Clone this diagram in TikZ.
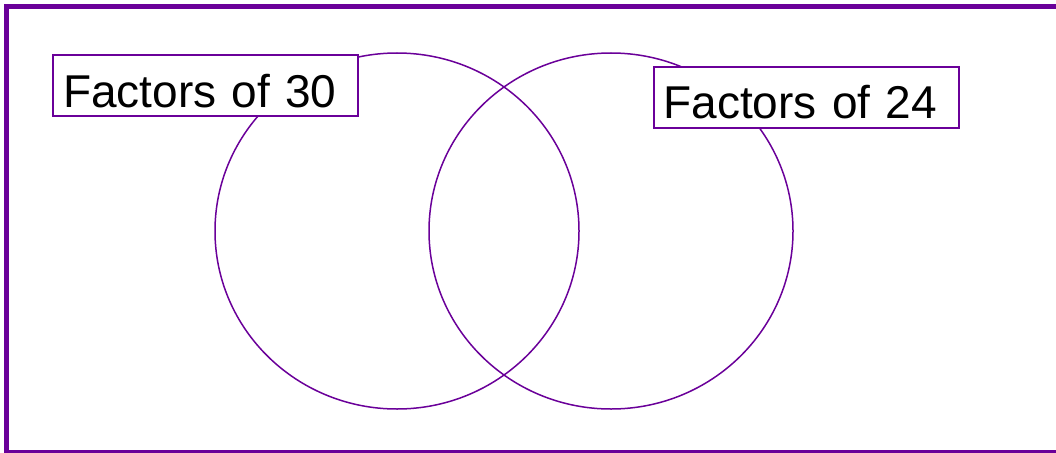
\documentclass[tikz,border=0pt]{standalone}
\usepackage{fontspec}
\setmainfont{Liberation Sans}
\usetikzlibrary{shapes.geometric, positioning}
\definecolor{VennPurple}{HTML}{6A0099}
\tikzset{
    % Frame and set styles
    frame line/.style={
        draw=VennPurple,
        line width=5pt
    },
    set circle/.style={
        ellipse,
        draw=VennPurple,
        line width=1.5pt,
        minimum width=364pt,
        minimum height=356pt
    },
    set label/.style={
        rectangle,
        draw=VennPurple,
        fill=white,
        line width=2pt,
        minimum height=61pt,
        text width=285pt,
        text height=43pt,
        text depth=0pt,
        inner xsep=10pt,
        align=left,
        font=\fontsize{46}{50}\selectfont
    }
}
\begin{document}
\begin{tikzpicture}[x=1pt, y=-1pt]
        % Page area
        \useasboundingbox (0, 0) rectangle (1056, 452);
        \clip (0, 0) rectangle (1056, 452);
        \draw[frame line] (6.5, 6.5) rectangle (1070, 452.5);

        % Sets
        \node[set circle] (thirty) at (397, 231) {};
        \node[set circle] (twentyfour) at (611, 231) {};

        % Labels
        \node[set label] (thirty label) at (205.5, 85.5) {Factors of 30};
        \node[set label] (twentyfour label) at (806, 97) {Factors of 24};
    \end{tikzpicture}
\end{document}
